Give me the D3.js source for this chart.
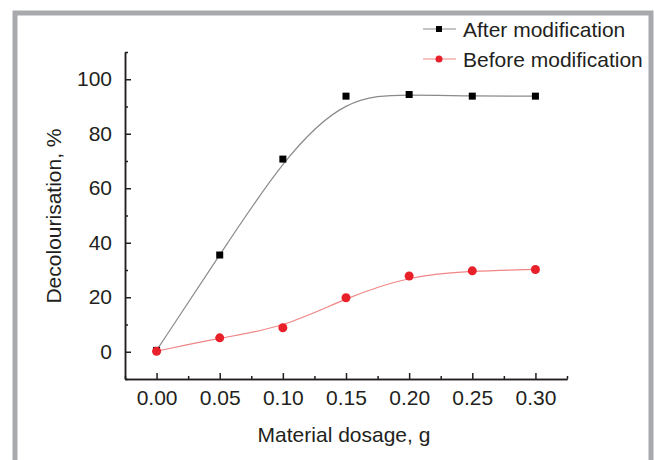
<!DOCTYPE html>
<html>
<head>
<meta charset="utf-8">
<script src="https://cdn.jsdelivr.net/npm/d3@7"></script>
<style>
  html, body { margin: 0; padding: 0; background: #fff; }
  svg text { font-family: "Liberation Sans", Arial, sans-serif; fill: #231f20; }
</style>
</head>
<body>
<div id="chart"></div>
<script>
const dosage = [0.0, 0.05, 0.1, 0.15, 0.2, 0.25, 0.3];
const afterValues = [0.5, 35.5, 70.7, 93.8, 94.4, 93.8, 93.8];
const beforeValues = [0.2, 5.1, 8.8, 19.8, 27.8, 29.7, 30.2];
const xTicks = [0, 0.05, 0.1, 0.15, 0.2, 0.25, 0.3];
const xMinorTicks = [-0.025, 0.025, 0.075, 0.125, 0.175, 0.225, 0.275, 0.325];
const yTicks = [0, 20, 40, 60, 80, 100];
const yMinorTicks = [-10, 10, 30, 50, 70, 90, 110];
const seriesNames = ['After modification', 'Before modification'];

const WIDTH = 654;
const HEIGHT = 460;
const FONT = 21;

const svg = d3.create('svg').attr('width', WIDTH).attr('height', HEIGHT);

// grey frame around the figure
svg
  .append('rect')
  .attr('x', 15)
  .attr('y', 13)
  .attr('width', 636)
  .attr('height', 460)
  .attr('fill', 'none')
  .attr('stroke', '#a7a9ac')
  .attr('stroke-width', 5);

const xScale = d3.scaleLinear().domain([-0.025, 0.325]).range([125, 567]);
const yScale = d3.scaleLinear().domain([-10, 110]).range([379, 52]);

const styleAxis = (g) => {
  g.select('.domain').attr('stroke', '#231f20').attr('stroke-width', 1.5);
  g.selectAll('.tick line').attr('stroke', '#231f20').attr('stroke-width', 1.5);
  g.selectAll('.tick text')
    .attr('font-size', FONT)
    .attr('font-family', '"Liberation Sans", Arial, sans-serif')
    .attr('fill', '#231f20');
};

// x axis
svg
  .append('g')
  .attr('transform', `translate(0, ${yScale(-10)})`)
  .call(d3.axisBottom(xScale).tickValues(xMinorTicks).tickSize(-3).tickSizeOuter(0).tickFormat(''))
  .call(styleAxis);
svg
  .append('g')
  .attr('transform', `translate(0, ${yScale(-10)})`)
  .call(
    d3.axisBottom(xScale)
      .tickValues(xTicks)
      .tickSize(-6)
      .tickSizeOuter(0)
      .tickPadding(11)
      .tickFormat(d3.format('.2f'))
  )
  .call(styleAxis);

// y axis
svg
  .append('g')
  .attr('transform', `translate(${xScale(-0.025)}, 0)`)
  .call(d3.axisLeft(yScale).tickValues(yMinorTicks).tickSize(-3).tickSizeOuter(0).tickFormat(''))
  .call(styleAxis);
svg
  .append('g')
  .attr('transform', `translate(${xScale(-0.025)}, 0)`)
  .call(d3.axisLeft(yScale).tickValues(yTicks).tickSize(-6).tickSizeOuter(0).tickPadding(13))
  .call(styleAxis);

// axis titles
svg
  .append('text')
  .attr('x', 344)
  .attr('y', 442)
  .attr('text-anchor', 'middle')
  .attr('font-size', FONT)
  .text('Material dosage, g');

svg
  .append('text')
  .attr('transform', 'translate(61, 216) rotate(-90)')
  .attr('text-anchor', 'middle')
  .attr('font-size', FONT)
  .text('Decolourisation, %');

// curves
const series = [
  { name: seriesNames[0], values: afterValues, line: '#8a8a8a', mark: '#000000', shape: 'square' },
  { name: seriesNames[1], values: beforeValues, line: '#f08585', mark: '#e8202a', shape: 'circle' },
];

const line = d3
  .line()
  .x((d) => xScale(d[0]))
  .y((d) => yScale(d[1]))
  .curve(d3.curveBasis);

series.forEach((s) => {
  const points = dosage.map((x, i) => [x, s.values[i]]);
  svg
    .append('path')
    .attr('d', line(points))
    .attr('fill', 'none')
    .attr('stroke', s.line)
    .attr('stroke-width', 1.2);

  if (s.shape === 'square') {
    svg
      .append('g')
      .selectAll('rect')
      .data(points)
      .join('rect')
      .attr('x', (d) => xScale(d[0]) - 3.5)
      .attr('y', (d) => yScale(d[1]) - 3.5)
      .attr('width', 7)
      .attr('height', 7)
      .attr('fill', s.mark);
  } else {
    svg
      .append('g')
      .selectAll('circle')
      .data(points)
      .join('circle')
      .attr('cx', (d) => xScale(d[0]))
      .attr('cy', (d) => yScale(d[1]))
      .attr('r', 4.5)
      .attr('fill', s.mark);
  }
});

// legend
const legend = svg
  .append('g')
  .selectAll('g')
  .data(series)
  .join('g')
  .attr('transform', (_, i) => `translate(423, ${29 + i * 30})`);

legend
  .append('line')
  .attr('x1', 0)
  .attr('x2', 33)
  .attr('stroke', (d) => d.line)
  .attr('stroke-width', 1.2);

legend
  .filter((d) => d.shape === 'square')
  .append('rect')
  .attr('x', 13)
  .attr('y', -3)
  .attr('width', 6)
  .attr('height', 6)
  .attr('fill', (d) => d.mark);

legend
  .filter((d) => d.shape === 'circle')
  .append('circle')
  .attr('cx', 16)
  .attr('r', 3.5)
  .attr('fill', (d) => d.mark);

legend
  .append('text')
  .attr('x', 40)
  .attr('y', 7.5)
  .attr('font-size', FONT)
  .text((d) => d.name);

document.getElementById('chart').appendChild(svg.node());
</script>
</body>
</html>
